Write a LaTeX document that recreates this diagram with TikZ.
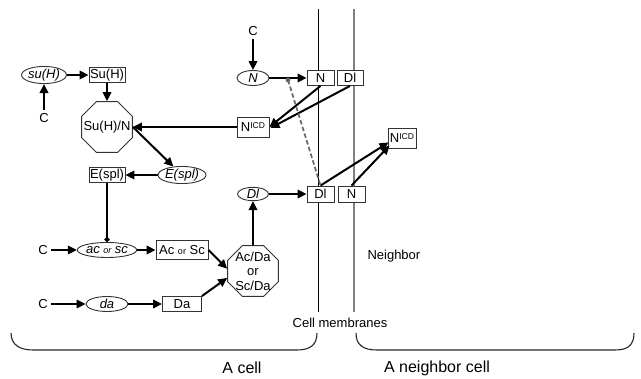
\documentclass[tikz,border=0pt]{standalone}
\usepackage{fontspec}
\setmainfont{Liberation Sans}
\usetikzlibrary{shapes.geometric,arrows.meta,calc}

\begin{document}
\begin{tikzpicture}[x=1pt,y=-1pt,
  lbl/.style={font=\fontsize{13}{15}\selectfont},
  gene/.style={ellipse,draw=black!80,line width=0.9pt,fill=white,inner sep=0pt,
    font=\fontsize{13}{15}\selectfont\itshape},
  prot/.style={rectangle,draw=black!80,line width=0.9pt,fill=white,inner sep=0pt,
    font=\fontsize{13}{15}\selectfont},
  cplx/.style={regular polygon,regular polygon sides=8,minimum size=55pt,
    inner sep=0pt,draw=black!80,line width=0.9pt,fill=white},
  act/.style={line width=2pt,-{Triangle[length=9pt,width=8.5pt]}},
  inh/.style={line width=2pt,-{Circle[length=5pt]}},
  membrane/.style={line width=1pt},
  brace/.style={line width=1.1pt,black!85},
  small/.style={font=\fontsize{10}{11}\selectfont\upshape},
]
\useasboundingbox (0,0) rectangle (641,379);

% cell membranes
\draw[membrane] (318,9) -- (318,312);
\draw[membrane,black!50,line width=1.3pt] (354,9) -- (354,312);

% braces under the two cells
\draw[brace] (11,333) .. controls (11,345) and (20,350) .. (33,350) -- (297,350)
  .. controls (310,350) and (317,345) .. (317,333);
\draw[brace] (356,333) .. controls (356,345) and (363,350) .. (377,350) -- (615,350)
  .. controls (628,350) and (634,345) .. (634,333);

% left cell: Su(H) branch
\node[gene,minimum width=36pt,minimum height=15pt] (suHg) at (44,75) {su(H)};
\node[prot,minimum width=36pt,minimum height=15pt] (suHp) at (107,75) {Su(H)};
\node[lbl] (c1) at (44,118) {C};
\node[cplx] (oct1) at (107,127) {};
\node[lbl] (oct1t) at (oct1) {Su(H)/N};
\node[gene,minimum width=35pt,minimum height=14pt] (esplg) at (182,175) {E(spl)};
\node[prot,minimum width=36pt,minimum height=15pt] (esplp) at (107,175) {E(spl)};

% left cell: proneural genes
\node[lbl] (c3) at (43,250) {C};
\node[gene,minimum width=53pt,minimum height=15pt] (acg) at (107,250) {ac {\small or} sc};
\node[prot,minimum width=52pt,minimum height=19pt] (acp) at (182,250) {Ac {\small or} Sc};
\node[lbl] (c4) at (43,304) {C};
\node[gene,minimum width=42pt,minimum height=15pt] (dag) at (107,304) {da};
\node[prot,minimum width=39pt,minimum height=15pt] (dap) at (182,304) {Da};
\node[cplx] (oct2) at (253,271) {};
\node[font=\fontsize{13}{14.5}\selectfont,align=center] (oct2t) at (oct2) {Ac/Da\\or\\Sc/Da};
\node[gene,minimum width=31pt,minimum height=12pt] (dlg) at (253,194) {Dl};

% Notch receptor and ligands at the membranes
\node[lbl] (c2) at (253,31) {C};
\node[gene,minimum width=32pt,minimum height=15pt] (ng) at (253,78) {N};
\node[prot,minimum width=27pt,minimum height=15pt] (nup) at (320.5,78) {N};
\node[prot,minimum width=26pt,minimum height=15pt] (dlup) at (350,78) {Dl};
\node[prot,minimum width=32pt,minimum height=20pt] (nicd1) at (253,127)
  {N\raisebox{3pt}{\fontsize{8.5}{9}\selectfont ICD}};
\node[prot,minimum width=27pt,minimum height=16pt] (dlp) at (320.5,194) {Dl};
\node[prot,minimum width=27pt,minimum height=16pt] (nlow) at (351.5,194) {N};
\node[prot,minimum width=28pt,minimum height=20pt] (nicd2) at (402,138)
  {N\raisebox{3pt}{\fontsize{8.5}{9}\selectfont ICD}};

% labels
\node[lbl,anchor=west] (nb) at (364,256) {Neighbor};
\node[lbl] (cm) at (340,323) {Cell membranes};
\node[font=\fontsize{16}{18}\selectfont] (acell) at (242,368) {A cell};
\node[font=\fontsize{16}{18}\selectfont] (ncell) at (437,368) {A neighbor cell};

% connectors
\draw[act] (c1) -- (suHg);
\draw[act] (suHg) -- (suHp);
\draw[act] (suHp) -- (oct1);
\draw[act] (nicd1) -- (oct1);
\draw[act] (oct1.east) -- (esplg);
\draw[act] (esplg) -- (esplp);
\draw[inh] (esplp) -- (acg);
\draw[act] (c3) -- (acg);
\draw[act] (acg) -- (acp);
\draw[act] (c4) -- (dag);
\draw[act] (dag) -- (dap);
\draw[act] (acp.east) -- (oct2.175);
\draw[act] (dap.north east) -- (oct2.195);
\draw[act] (oct2) -- (dlg);
\draw[act] (dlg) -- (dlp);
\draw[act] (dlp.north) -- ($(nicd2.south west)+(1,-6)$);
\draw[act] (nlow.north) -- ($(nicd2.south west)+(2,-3)$);
\draw[act] (c2) -- (ng);
\draw[act] (ng) -- (nup);
\draw[act] (nup.south) -- ($(nicd1.east)+(0,0)$);
\draw[act] (dlup.south) -- ($(nicd1.east)+(1,1)$);

% cis-inhibition of Notch by Delta
\coordinate (dot) at (288,80);
\fill[black!60] (dot) circle (2.4pt);
\draw[black!60,line width=1.7pt,dash pattern=on 4.5pt off 2.5pt] (dot) -- (dlp.north);
\end{tikzpicture}
\end{document}
